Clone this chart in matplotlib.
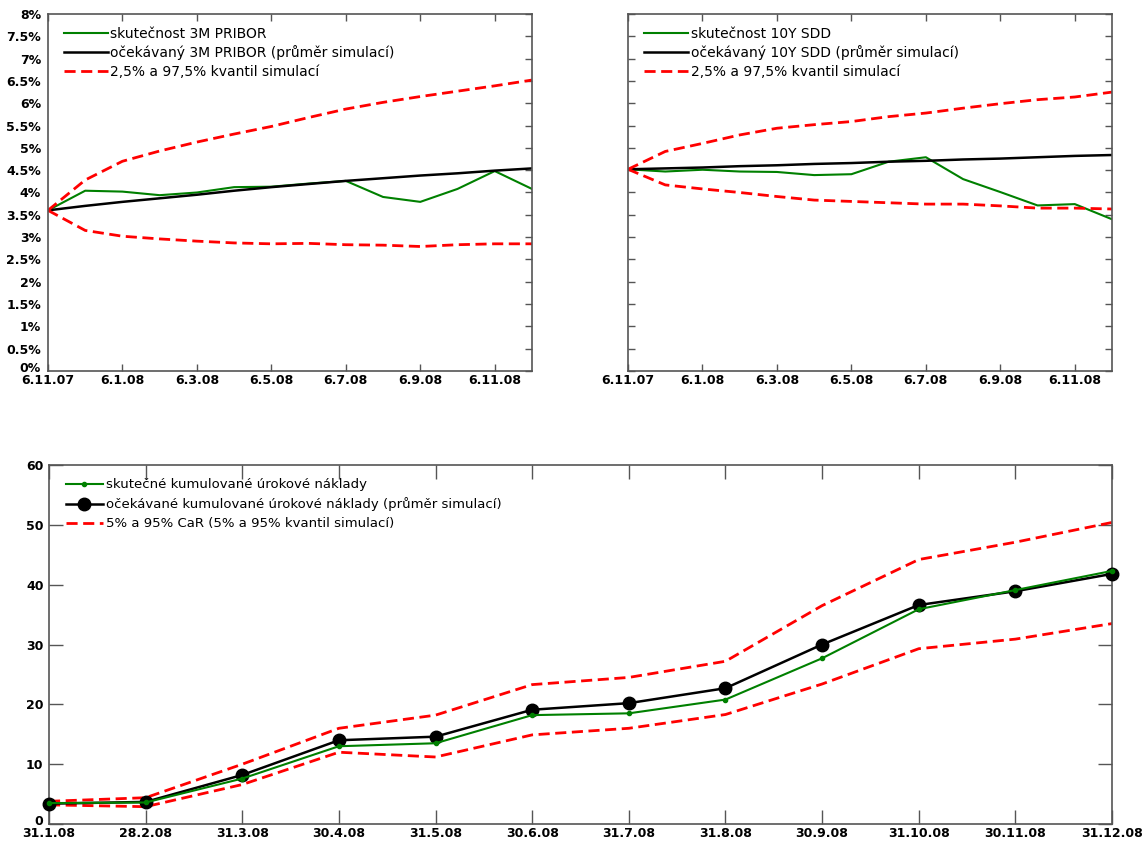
import matplotlib.pyplot as plt
from matplotlib.transforms import ScaledTranslation

# %% data
# top panels: monthly steps from 6.11.07 to 6.12.08
top_ticks = ['6.11.07', '6.1.08', '6.3.08', '6.5.08', '6.7.08', '6.9.08', '6.11.08']
pct_ticks = ['0%', '0.5%', '1%', '1.5%', '2%', '2.5%', '3%', '3.5%', '4%',
             '4.5%', '5%', '5.5%', '6%', '6.5%', '7%', '7.5%', '8%']

pribor_real = [3.60, 4.04, 4.02, 3.94, 4.00, 4.12, 4.13, 4.20, 4.26, 3.90, 3.79, 4.08, 4.48, 4.08]
pribor_mean = [3.60, 3.70, 3.79, 3.87, 3.95, 4.04, 4.12, 4.19, 4.26, 4.32, 4.38, 4.43, 4.49, 4.54]
pribor_hi = [3.60, 4.28, 4.70, 4.93, 5.13, 5.31, 5.48, 5.68, 5.87, 6.02, 6.15, 6.27, 6.39, 6.52]
pribor_lo = [3.60, 3.15, 3.02, 2.96, 2.91, 2.87, 2.85, 2.86, 2.83, 2.82, 2.79, 2.83, 2.85, 2.85]

sdd_real = [4.52, 4.47, 4.51, 4.47, 4.46, 4.39, 4.41, 4.69, 4.79, 4.30, 4.01, 3.71, 3.74, 3.40]
sdd_mean = [4.52, 4.54, 4.56, 4.59, 4.61, 4.64, 4.66, 4.69, 4.71, 4.74, 4.76, 4.79, 4.82, 4.84]
sdd_hi = [4.52, 4.92, 5.10, 5.29, 5.44, 5.52, 5.59, 5.70, 5.78, 5.89, 5.99, 6.08, 6.14, 6.25]
sdd_lo = [4.52, 4.17, 4.08, 4.00, 3.91, 3.83, 3.80, 3.77, 3.74, 3.74, 3.70, 3.65, 3.65, 3.63]

# bottom panel: cumulated interest costs at month ends
months = ['31.1.08', '28.2.08', '31.3.08', '30.4.08', '31.5.08', '30.6.08',
          '31.7.08', '31.8.08', '30.9.08', '31.10.08', '30.11.08', '31.12.08']
cost_real = [3.5, 3.6, 7.6, 13.0, 13.5, 18.2, 18.5, 20.8, 27.7, 35.9, 39.1, 42.3]
cost_mean = [3.4, 3.7, 8.2, 14.0, 14.6, 19.1, 20.2, 22.7, 30.0, 36.6, 38.9, 41.8]
car_hi = [3.8, 4.4, 10.0, 16.0, 18.2, 23.3, 24.5, 27.2, 36.5, 44.2, 47.1, 50.4]
car_lo = [3.2, 2.9, 6.6, 12.0, 11.2, 14.9, 16.0, 18.3, 23.4, 29.3, 30.9, 33.5]

GREEN = '#008000'
RED = '#ff0000'
FRAME = '#555555'
dash = (0, (4, 2))

plt.rcParams['font.family'] = 'DejaVu Sans'

fig = plt.figure(figsize=(11.45, 8.43), dpi=100)


def style_axes(ax, ticklen):
    for s in ax.spines.values():
        s.set_color(FRAME)
        s.set_linewidth(1.2)
    ax.tick_params(direction='in', length=ticklen, width=1, color=FRAME,
                   top=True, right=True, labelsize=9, pad=2)
    for lab in ax.get_xticklabels() + ax.get_yticklabels():
        lab.set_fontweight('bold')


def lift_zero(ax):
    # nudge the "0" label up a little so it does not touch the first date
    lab = ax.get_yticklabels()[0]
    lab.set_transform(lab.get_transform() + ScaledTranslation(0, 4 / 100, fig.dpi_scale_trans))


def rate_panel(ax, real, mean, hi, lo, name, show_y):
    x = list(range(len(real)))
    ax.plot(x, real, color=GREEN, lw=1.5, label='skutečnost ' + name)
    ax.plot(x, mean, color='black', lw=1.8, label='očekávaný ' + name + ' (průměr simulací)')
    ax.plot(x, hi, color=RED, lw=2, ls=dash, label='2,5% a 97,5% kvantil simulací')
    ax.plot(x, lo, color=RED, lw=2, ls=dash)
    ax.set_xlim(0, 13)
    ax.set_ylim(0, 8)
    ax.set_xticks(range(0, 13, 2))
    ax.set_xticklabels(top_ticks)
    ax.set_yticks([i * 0.5 for i in range(17)])
    if show_y:
        ax.set_yticklabels(pct_ticks)
    else:
        ax.set_yticklabels([])
    style_axes(ax, 5)
    if show_y:
        ax.tick_params(axis='y', left=False, pad=5)
        lift_zero(ax)
    ax.legend(loc='upper left', frameon=False, fontsize=10, handlelength=3.2,
              handletextpad=0.15, labelspacing=0.32, borderaxespad=0.4,
              bbox_to_anchor=(0.01, 0.995))


ax1 = fig.add_axes([0.0419, 0.5599, 0.4227, 0.4235])
rate_panel(ax1, pribor_real, pribor_mean, pribor_hi, pribor_lo, '3M PRIBOR', True)

ax2 = fig.add_axes([0.5485, 0.5599, 0.4227, 0.4235])
rate_panel(ax2, sdd_real, sdd_mean, sdd_hi, sdd_lo, '10Y SDD', False)

# bottom panel
ax3 = fig.add_axes([0.0428, 0.0225, 0.9284, 0.4259])
xb = list(range(len(months)))
ax3.plot(xb, cost_real, color=GREEN, lw=1.5, marker='o', ms=3, clip_on=False, zorder=4,
         label='skutečné kumulované úrokové náklady')
ax3.plot(xb, cost_mean, color='black', lw=1.8, marker='o', ms=9, clip_on=False, zorder=3,
         label='očekávané kumulované úrokové náklady (průměr simulací)')
ax3.plot(xb, car_hi, color=RED, lw=2, ls=dash,
         label='5% a 95% CaR (5% a 95% kvantil simulací)')
ax3.plot(xb, car_lo, color=RED, lw=2, ls=dash)
ax3.set_xlim(0, 11)
ax3.set_ylim(0, 60)
ax3.set_xticks(xb)
ax3.set_xticklabels(months)
ax3.set_yticks(range(0, 61, 10))
style_axes(ax3, 10)
ax3.tick_params(axis='y', pad=4)
lift_zero(ax3)
ax3.legend(loc='upper left', frameon=False, fontsize=9.5, handlelength=2.8,
           handletextpad=0.2, labelspacing=0.45, borderaxespad=0.4,
           bbox_to_anchor=(0.006, 0.992))

fig.savefig('out.png', dpi=100)
